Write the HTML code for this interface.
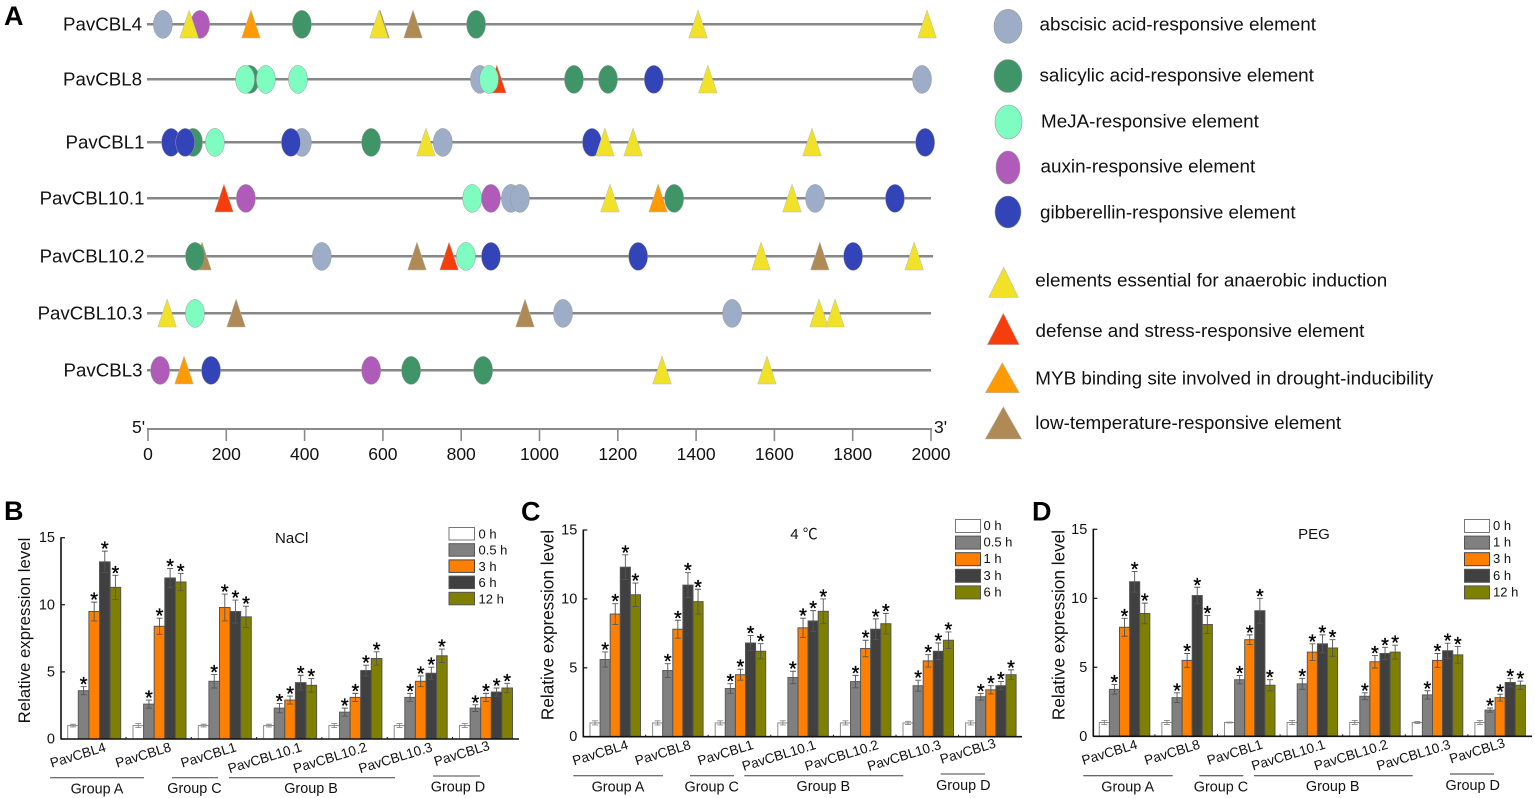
<!DOCTYPE html>
<html lang="en">
<head>
<meta charset="utf-8">
<title>PavCBL promoter elements and expression</title>
<style>
html,body{margin:0;padding:0;background:#fff;}
svg{display:block;font-family:"Liberation Sans","Noto Sans CJK SC",sans-serif;fill:#111;}
.letter{font-size:27px;font-weight:bold;fill:#000;}
.gene{font-size:18.7px;text-anchor:end;}
.leg{font-size:18.85px;}
.ytitle{font-size:17.2px;text-anchor:middle;}
.ptitle{font-size:15px;text-anchor:middle;}
.grp{font-size:14.4px;text-anchor:middle;}
.lg{font-size:13px;}
</style>
</head>
<body>
<svg id="figure" xmlns="http://www.w3.org/2000/svg" width="1535" height="798" viewBox="0 0 1535 798">
  <rect width="1535" height="798" fill="#fff"/>

  <text class="letter" x="4" y="25">A</text>
  <text class="letter" x="4" y="520">B</text>
  <text class="letter" x="521" y="520.5">C</text>
  <text class="letter" x="1032" y="520.5">D</text>

  <g id="tracks"></g>
  <g id="bp-axis"></g>
  <text x="132" y="433" font-size="17.5">5'</text>
  <text x="934" y="433" font-size="17.5">3'</text>

  <g>
    <ellipse cx="1008" cy="26.3" rx="14" ry="17" fill="#9dadc8" stroke="#9a9a9a" stroke-width=".6"/>
    <text class="leg" x="1039.5" y="30.7">abscisic acid-responsive element</text>
    <ellipse cx="1008" cy="76" rx="14" ry="16.5" fill="#3f9567" stroke="#9a9a9a" stroke-width=".6"/>
    <text class="leg" x="1039.5" y="81.7">salicylic acid-responsive element</text>
    <ellipse cx="1008.5" cy="122" rx="13.5" ry="17" fill="#7ffcc0" stroke="#9a9a9a" stroke-width=".6"/>
    <text class="leg" x="1041" y="127.3">MeJA-responsive element</text>
    <ellipse cx="1008" cy="167.5" rx="12" ry="16.5" fill="#b05bb9" stroke="#9a9a9a" stroke-width=".6"/>
    <text class="leg" x="1040.5" y="172.3">auxin-responsive element</text>
    <ellipse cx="1008" cy="212" rx="13" ry="16" fill="#3344b8" stroke="#9a9a9a" stroke-width=".6"/>
    <text class="leg" x="1040" y="218.3">gibberellin-responsive element</text>
    <polygon points="1003.7,267.3 1018.3,297.3 988.7,297.3" fill="#f2e227" stroke="#bbb" stroke-width=".6"/>
    <text class="leg" x="1035.3" y="286.7">elements essential for anaerobic induction</text>
    <polygon points="1003.3,313.3 1019.3,344.7 987.3,344.7" fill="#f63e0c" stroke="#bbb" stroke-width=".6"/>
    <text class="leg" x="1035.5" y="337">defense and stress-responsive element</text>
    <polygon points="1002.3,362.7 1019.3,392.7 985.3,392.7" fill="#ff9a00" stroke="#bbb" stroke-width=".6"/>
    <text class="leg" x="1035.3" y="384.7">MYB binding site involved in drought-inducibility</text>
    <polygon points="1003.3,406.7 1021.7,439 985.3,439" fill="#b08a55" stroke="#bbb" stroke-width=".6"/>
    <text class="leg" x="1035.3" y="429">low-temperature-responsive element</text>
  </g>

  <!-- Panel B -->
  <g id="panel-b">
    <text class="ytitle" transform="translate(30,630.5) rotate(-90)" style="font-size:16.8px">Relative expression level</text>
    <text class="ptitle" x="291.7" y="543">NaCl</text>
    <g>
      <rect x="449" y="527.5" width="25.5" height="12.5" fill="#fff" stroke="#777"/>
      <text class="lg" x="478.5" y="538.5">0 h</text>
      <rect x="449" y="543.7" width="25.5" height="12.5" fill="#808080" stroke="#555"/>
      <text class="lg" x="478.5" y="554.7">0.5 h</text>
      <rect x="449" y="559.9" width="25.5" height="12.5" fill="#ff8000" stroke="#444"/>
      <text class="lg" x="478.5" y="570.9">3 h</text>
      <rect x="449" y="576.1" width="25.5" height="12.5" fill="#404040" stroke="#555"/>
      <text class="lg" x="478.5" y="587.1">6 h</text>
      <rect x="449" y="592.3" width="25.5" height="12.5" fill="#808000" stroke="#555"/>
      <text class="lg" x="478.5" y="603.3">12 h</text>
    </g>
    <g stroke-width="1">
      <line x1="50" x2="144" y1="777.7" y2="777.7" stroke="#444"/>
      <text class="grp" x="97" y="793.5">Group A</text>
      <line x1="172" x2="218" y1="777.7" y2="777.7" stroke="#444"/>
      <text class="grp" x="194.5" y="793">Group C</text>
      <line x1="229" x2="395" y1="777.7" y2="777.7" stroke="#444"/>
      <text class="grp" x="311" y="793">Group B</text>
      <line x1="433" x2="480" y1="776" y2="776" stroke="#444"/>
      <text class="grp" x="458" y="791.7">Group D</text>
    </g>
  </g>

  <!-- Panel C -->
  <g id="panel-c">
    <text class="ytitle" transform="translate(553.5,625) rotate(-90)">Relative expression level</text>
    <text class="ptitle" x="804" y="539">4 ℃</text>
    <g>
      <rect x="955.5" y="519.5" width="25" height="13" fill="#fff" stroke="#777"/>
      <text class="lg" x="983.5" y="530">0 h</text>
      <rect x="955.5" y="536.1" width="25" height="13" fill="#808080" stroke="#555"/>
      <text class="lg" x="983.5" y="546.6">0.5 h</text>
      <rect x="955.5" y="552.7" width="25" height="13" fill="#ff8000" stroke="#444"/>
      <text class="lg" x="983.5" y="563.2">1 h</text>
      <rect x="955.5" y="569.3" width="25" height="13" fill="#404040" stroke="#555"/>
      <text class="lg" x="983.5" y="579.8">3 h</text>
      <rect x="955.5" y="585.9" width="25" height="13" fill="#808000" stroke="#555"/>
      <text class="lg" x="983.5" y="596.4">6 h</text>
    </g>
    <g stroke-width="1">
      <line x1="573.3" x2="663" y1="775.7" y2="775.7" stroke="#444"/>
      <text class="grp" x="618" y="791.7">Group A</text>
      <line x1="690" x2="734" y1="775.7" y2="775.7" stroke="#444"/>
      <text class="grp" x="711.7" y="791.7">Group C</text>
      <line x1="744.3" x2="903.3" y1="775.7" y2="775.7" stroke="#444"/>
      <text class="grp" x="823.3" y="791.2">Group B</text>
      <line x1="940.7" x2="985" y1="774" y2="774" stroke="#444"/>
      <text class="grp" x="963.3" y="790">Group D</text>
    </g>
  </g>

  <!-- Panel D -->
  <g id="panel-d">
    <text class="ytitle" transform="translate(1064.5,625) rotate(-90)">Relative expression level</text>
    <text class="ptitle" x="1314" y="539">PEG</text>
    <g>
      <rect x="1464.5" y="519.5" width="25" height="13" fill="#fff" stroke="#777"/>
      <text class="lg" x="1493" y="530">0 h</text>
      <rect x="1464.5" y="536.1" width="25" height="13" fill="#808080" stroke="#555"/>
      <text class="lg" x="1493" y="546.6">1 h</text>
      <rect x="1464.5" y="552.7" width="25" height="13" fill="#ff8000" stroke="#444"/>
      <text class="lg" x="1493" y="563.2">3 h</text>
      <rect x="1464.5" y="569.3" width="25" height="13" fill="#404040" stroke="#555"/>
      <text class="lg" x="1493" y="579.8">6 h</text>
      <rect x="1464.5" y="585.9" width="25" height="13" fill="#808000" stroke="#555"/>
      <text class="lg" x="1493" y="596.4">12 h</text>
    </g>
    <g stroke-width="1">
      <line x1="1083.3" x2="1172.7" y1="775.7" y2="775.7" stroke="#333"/>
      <text class="grp" x="1127.7" y="791.7">Group A</text>
      <line x1="1199.3" x2="1243.3" y1="775.7" y2="775.7" stroke="#333"/>
      <text class="grp" x="1221" y="791.7">Group C</text>
      <line x1="1254" x2="1412.7" y1="775.7" y2="775.7" stroke="#333"/>
      <text class="grp" x="1332.7" y="791.2">Group B</text>
      <line x1="1450" x2="1494" y1="774" y2="774" stroke="#333"/>
      <text class="grp" x="1472.7" y="790">Group D</text>
    </g>
  </g>
</svg>

<script>
/* ---------- Panel A data: [element type, position in bp] ---------- */
const trackNames = ['PavCBL4','PavCBL8','PavCBL1','PavCBL10.1','PavCBL10.2','PavCBL10.3','PavCBL3'];
const sitesPavCBL4 = [['aba',38],['auxin',133],['anaerobic',105],['myb',263],['sa',393],['low',593],['anaerobic',590],['low',677],['sa',838],['anaerobic',1405],['anaerobic',1990]];
const sitesPavCBL8 = [['sa',260],['meja',248],['meja',301],['meja',383],['aba',848],['defense',891],['meja',871],['sa',1088],['sa',1175],['gib',1292],['anaerobic',1430],['aba',1977]];
const sitesPavCBL1 = [['gib',59],['sa',115],['gib',95],['meja',171],['aba',393],['gib',365],['sa',570],['anaerobic',710],['aba',753],['gib',1134],['anaerobic',1167],['anaerobic',1239],['anaerobic',1696],['gib',1985]];
const sitesPavCBL101 = [['defense',194],['auxin',250],['meja',828],['auxin',876],['aba',927],['aba',950],['anaerobic',1180],['myb',1303],['sa',1344],['anaerobic',1645],['aba',1704],['gib',1908]];
const sitesPavCBL102 = [['low',138],['sa',120],['aba',444],['low',687],['defense',769],['meja',812],['gib',876],['gib',1252],['anaerobic',1566],['low',1716],['gib',1801],['anaerobic',1957]];
const sitesPavCBL103 = [['anaerobic',49],['meja',120],['low',225],['low',963],['aba',1060],['aba',1492],['anaerobic',1714],['anaerobic',1755]];
const sitesPavCBL3 = [['auxin',31],['myb',92],['gib',161],['auxin',570],['sa',672],['sa',856],['anaerobic',1313],['anaerobic',1581]];
const bpTicks = [0,200,400,600,800,1000,1200,1400,1600,1800,2000];

/* ---------- Bar chart data ---------- */
const geneLabels = ['PavCBL4','PavCBL8','PavCBL1','PavCBL10.1','PavCBL10.2','PavCBL10.3','PavCBL3'];
const yTickValues = [0,5,10,15];
const naclMeans = [[1,3.6,9.5,13.2,11.3],[1,2.6,8.4,12,11.7],[1,4.3,9.8,9.5,9.1],[1,2.3,2.9,4.2,4],[1,2,3.1,5.1,6],[1,3.1,4.3,4.9,6.2],[1,2.3,3.1,3.5,3.8]];
const naclErrors = [[.1,.3,.7,.8,.9],[.15,.3,.6,.7,.65],[.1,.5,1,.85,.8],[.1,.35,.3,.55,.5],[.15,.3,.3,.4,.5],[.15,.3,.4,.45,.5],[.15,.25,.3,.3,.35]];
const coldMeans = [[1,5.6,8.9,12.3,10.3],[1,4.8,7.8,11,9.8],[1,3.5,4.5,6.8,6.2],[1,4.3,7.9,8.4,9.1],[1,4,6.4,7.8,8.2],[1,3.7,5.5,6.2,7],[1,2.9,3.4,3.7,4.5]];
const coldErrors = [[.15,.55,.75,.9,.85],[.15,.5,.65,.9,.9],[.15,.35,.4,.55,.55],[.15,.45,.7,.75,.9],[.15,.45,.6,.75,.75],[.12,.4,.45,.6,.6],[.15,.25,.3,.3,.35]];
const pegMeans = [[1,3.4,7.9,11.2,8.9],[1,2.8,5.5,10.2,8.1],[1,4.1,7,9.1,3.7],[1,3.8,6.1,6.7,6.4],[1,2.9,5.4,6,6.1],[1,3,5.5,6.2,5.9],[1,1.9,2.8,3.9,3.7]];
const pegErrors = [[.15,.35,.65,.75,.75],[.15,.35,.5,.6,.65],[.03,.3,.35,.9,.4],[.15,.4,.6,.65,.6],[.15,.25,.45,.45,.5],[.08,.3,.5,.55,.6],[.15,.15,.25,.3,.3]];

const NS = 'http://www.w3.org/2000/svg';
function make(tag, attrs, parent, text) {
  const el = document.createElementNS(NS, tag);
  for (const k in attrs) el.setAttribute(k, attrs[k]);
  if (text !== undefined) el.textContent = text;
  parent.appendChild(el);
  return el;
}

/* ---------- Panel A ---------- */
const xBp = bp => 148 + bp * (931 - 148) / 2000;
const elementColors = {aba:'#9dadc8',sa:'#3f9567',meja:'#7ffcc0',auxin:'#b05bb9',gib:'#3344b8',anaerobic:'#f2e227',defense:'#f63e0c',myb:'#ff9a00',low:'#b08a55'};
const elementShapes = {aba:'e',sa:'e',meja:'e',auxin:'e',gib:'e',anaerobic:'t',defense:'t',myb:'t',low:'t'};
const trackRows = [sitesPavCBL4,sitesPavCBL8,sitesPavCBL1,sitesPavCBL101,sitesPavCBL102,sitesPavCBL103,sitesPavCBL3];
const trackLayout = [
  {y:24,labelX:142,x2:927},{y:79,labelX:142,x2:925},{y:142,labelX:144.5,x2:925},
  {y:198,labelX:144.5,x2:931},{y:256,labelX:144.5,x2:933},{y:313,labelX:142.5,x2:931},{y:370,labelX:142.5,x2:931}
];
const tracksG = document.getElementById('tracks');
trackNames.forEach((name, r) => {
  const row = trackLayout[r];
  const g = make('g', {}, tracksG);
  
  
  const label = make('text', {class:'gene', x:row.labelX, y:row.y + 6.5}, g, name);
  
  
  const line = make('line', {x1:147, x2:row.x2, y1:row.y + .2, y2:row.y + .2, stroke:'#878787', 'stroke-width':2.5}, g);
  
  
  trackRows[r].forEach(site => {
    const cx = xBp(site[1]);
    const fill = elementColors[site[0]];
    let mark;
    if (elementShapes[site[0]] === 'e') {
      mark = make('ellipse', {cx:cx, cy:row.y + .4, rx:9.5, ry:14, fill:fill, stroke:'#999', 'stroke-width':.5}, g);
    } else {
      mark = make('polygon', {points:(cx) + ',' + (row.y - 14) + ' ' + (cx + 9.3) + ',' + (row.y + 14) + ' ' + (cx - 9.3) + ',' + (row.y + 14), fill:fill, stroke:'#bbb', 'stroke-width':.5}, g);
    }
    
    
  });
});

const axisG = document.getElementById('bp-axis');
const axisLine = make('line', {x1:xBp(0) - 1, x2:xBp(2000) + 1, y1:429, y2:429, stroke:'#8a8a8a', 'stroke-width':2}, axisG);


bpTicks.forEach(t => {
  const tick = make('line', {x1:xBp(t), x2:xBp(t), y1:429, y2:441, stroke:'#8a8a8a', 'stroke-width':1.6}, axisG);
  
  
  const lab = make('text', {x:xBp(t), y:460, 'font-size':17.5, 'text-anchor':'middle'}, axisG, t);
  
  
});

/* ---------- Bar charts ---------- */
const barFills = ['#ffffff','#808080','#ff8000','#404040','#808000'];
const barStrokes = ['#8c8c8c','#5c5c5c','#555555','#555555','#555555'];

function drawBars(panelId, means, errors, layout) {
  const parent = document.getElementById(panelId);
  const yScale = v => layout.y0 - v / 15 * (layout.y0 - layout.y15);
  const groupX = i => layout.start + i * layout.step;

  const plot = make('g', {}, parent);
  
  

  means.forEach((series, g) => {
    series.forEach((v, s) => {
      const x = groupX(g) + s * layout.bw;
      const bar = make('rect', {x:x, y:yScale(v), width:layout.bw, height:layout.y0 - yScale(v), fill:barFills[s], stroke:barStrokes[s], 'stroke-width':1}, plot);
      
      
      const cx = x + layout.bw / 2;
      const e = errors[g][s];
      const errPath = 'M' + cx + ' ' + yScale(v + e) + 'V' + yScale(v - e)
        + 'M' + (cx - 3) + ' ' + yScale(v + e) + 'h6'
        + 'M' + (cx - 3) + ' ' + yScale(v - e) + 'h6';
      const err = make('path', {d:errPath, stroke:s === 0 ? '#888' : '#555', 'stroke-width':.9, fill:'none'}, plot);
      
      
      if (s > 0) {
        const star = make('text', {x:cx, y:yScale(v + e) + 4.5, 'font-size':20, 'text-anchor':'middle', fill:'#000', stroke:'#000', 'stroke-width':.35}, plot, '*');
        
        
      }
    });
    const last = g === means.length - 1;
    const endX = groupX(g) + (last ? 31 : 39);
    const endY = layout.y0 + (last ? 10.5 : 12);
    const label = make('text', {x:endX, y:endY, 'font-size':13.6, 'text-anchor':'end', transform:'rotate(-17 ' + endX + ' ' + endY + ')'}, parent, geneLabels[g]);
    
    
    if (g > 0) {
      const mt = make('line', {x1:groupX(g) - 7, x2:groupX(g) - 7, y1:layout.y0, y2:layout.y0 - 2, stroke:'#111', 'stroke-width':1}, parent);
      
      
    }
  });

  const xAxis = make('line', {x1:layout.axisX, x2:layout.xEnd, y1:layout.y0, y2:layout.y0, stroke:'#111', 'stroke-width':1.6}, parent);
  
  
  const yAxis = make('line', {x1:layout.axisX, x2:layout.axisX, y1:layout.y15 - .5, y2:layout.y0 + .5, stroke:'#111', 'stroke-width':1.6}, parent);
  
  
  yTickValues.forEach(t => {
    const tick = make('line', {x1:layout.axisX, x2:layout.axisX + 4, y1:yScale(t), y2:yScale(t), stroke:'#111', 'stroke-width':1.2}, parent);
    
    
    const lab = make('text', {x:layout.axisX - 6, y:yScale(t) + 4.5, 'font-size':14.5, 'text-anchor':'end'}, parent, t);
    
    
  });
}

drawBars('panel-b', naclMeans, naclErrors, {y0:739, y15:537.7, axisX:61, xEnd:519, start:67.7, step:65.3, bw:10.6});
drawBars('panel-c', coldMeans, coldErrors, {y0:736.7, y15:530, axisX:583.3, xEnd:1022, start:590, step:62.6, bw:10.1});
drawBars('panel-d', pegMeans, pegErrors, {y0:736.3, y15:529.3, axisX:1093.3, xEnd:1532, start:1099.3, step:62.6, bw:10.1});
</script>
</body>
</html>
